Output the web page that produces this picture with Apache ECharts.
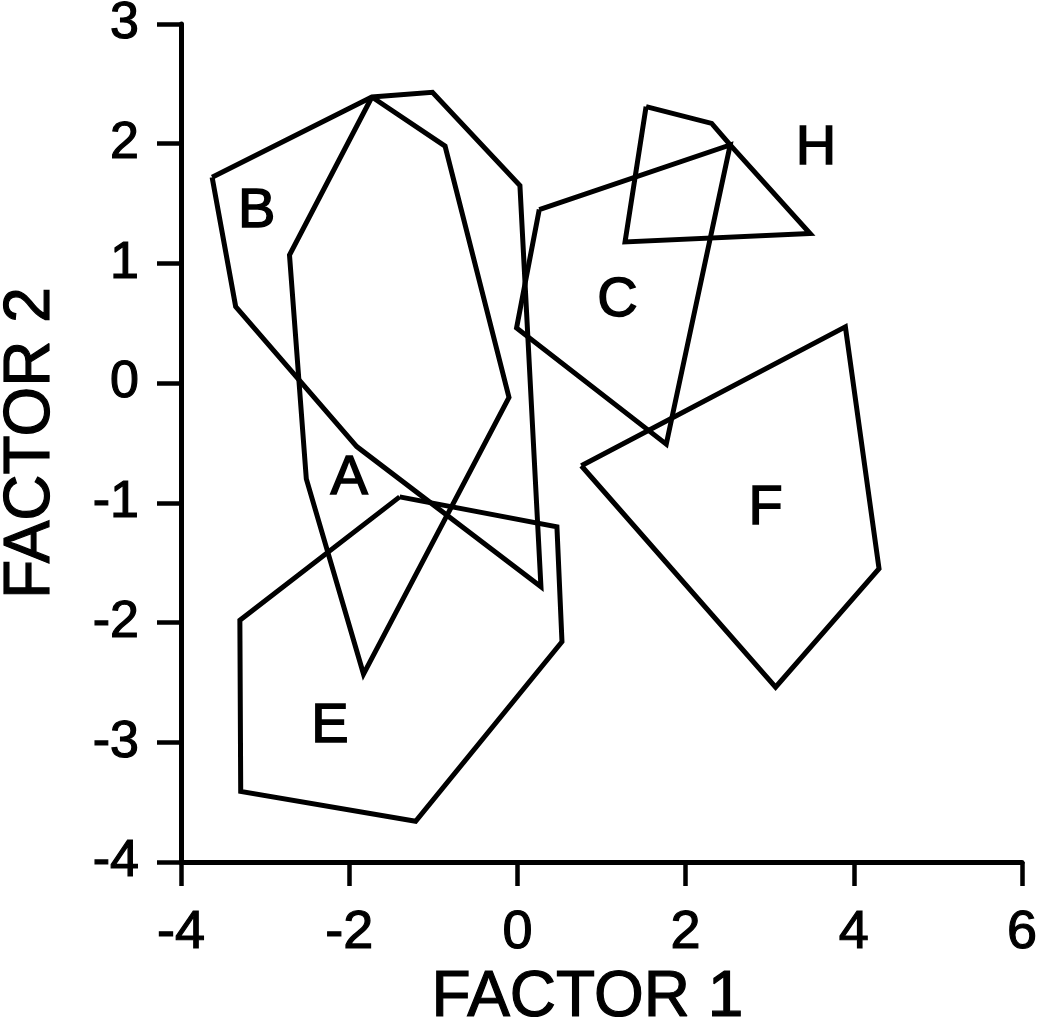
<!DOCTYPE html>
<html>
<head>
<meta charset="utf-8">
<script src="https://cdn.jsdelivr.net/npm/echarts@6/dist/echarts.min.js"></script>
<style>
html,body{margin:0;padding:0;background:#fff;}
#chart{width:1058px;height:1032px;}
</style>
</head>
<body>
<div id="chart"></div>
<script>
// Polygon vertices [factor1, factor2]
const polygonA = [[-1.73,2.39],[-0.86,1.98],[-0.10,-0.12],[-1.83,-2.43],[-2.51,-0.80],[-2.71,1.07]];
const polygonB = [[-3.63,1.72],[-1.73,2.39],[-1.01,2.43],[0.03,1.65],[0.28,-1.70],[-1.91,-0.53],[-3.35,0.64]];
const polygonC = [[0.26,1.45],[2.53,1.99],[1.77,-0.51],[-0.01,0.46]];
const polygonH = [[1.53,2.31],[2.31,2.17],[2.53,1.99],[3.48,1.25],[1.28,1.18]];
const polygonE = [[-1.40,-0.95],[0.47,-1.20],[0.53,-2.16],[-1.21,-3.66],[-3.29,-3.41],[-3.30,-1.98]];
const polygonF = [[0.76,-0.69],[3.90,0.47],[4.30,-1.55],[3.07,-2.54]];

const groupNames = ['A','B','C','H','E','F'];
const labelPositions = [[-2.00,-0.80],[-3.10,1.43],[1.19,0.69],[3.55,1.96],[-2.23,-2.87],[2.95,-1.05]];

const xTicks = {min:-4, max:6, interval:2};
const yTicks = {min:-4, max:3, interval:1};
const xTitle = 'FACTOR 1';
const yTitle = 'FACTOR 2';

const polygons = [polygonA, polygonB, polygonC, polygonH, polygonE, polygonF];

const FONT = '"Liberation Sans", Arial, sans-serif';
const chart = echarts.init(document.getElementById('chart'), null, {renderer:'canvas'});

const lineSeries = polygons.map((p, i) => ({
  type: 'line',
  name: groupNames[i],
  data: p.concat([p[0]]),
  symbol: 'none',
  lineStyle: {color:'#000', width:5, join:'miter'},
  silent: true,
  z: 2
}));

const labelSeries = {
  type: 'scatter',
  data: groupNames.map((n, i) => ({name:n, value:labelPositions[i]})),
  symbolSize: 2,
  itemStyle: {color:'rgba(0,0,0,0)'},
  label: {show:true, position:'inside', formatter:'{b}', fontSize:56, color:'#000', opacity:1,
          fontFamily:FONT, textBorderColor:'#000', textBorderWidth:1.5},
  labelLayout: {hideOverlap:false},
  silent: true,
  z: 3
};

const axisCommon = {
  type: 'value',
  splitLine: {show:false},
  axisLine: {show:true, onZero:false, lineStyle:{color:'#000', width:5}},
  axisTick: {show:true, inside:false, length:24, lineStyle:{color:'#000', width:4.5}},
  nameLocation: 'middle',
};

chart.setOption({
  animation: false,
  backgroundColor: '#fff',
  grid: {left:181, right:36, top:24, bottom:170, containLabel:false, outerBoundsMode:'none'},
  xAxis: Object.assign({}, axisCommon, {
    min: xTicks.min, max: xTicks.max, interval: xTicks.interval,
    axisLabel: {margin:44, fontSize:54, color:'#000', fontFamily:FONT, textBorderColor:'#000', textBorderWidth:1.2},
    name: xTitle, nameGap: 100,
    nameTextStyle: {fontSize:64, color:'#000', fontFamily:FONT, padding:[0,28,0,0], textBorderColor:'#000', textBorderWidth:1.2}
  }),
  yAxis: Object.assign({}, axisCommon, {
    min: yTicks.min, max: yTicks.max, interval: yTicks.interval,
    axisLabel: {margin:42, fontSize:52, color:'#000', fontFamily:FONT, textBorderColor:'#000', textBorderWidth:1.2},
    name: yTitle, nameGap: 118,
    nameTextStyle: {fontSize:64, color:'#000', fontFamily:FONT, textBorderColor:'#000', textBorderWidth:1.2}
  }),
  series: lineSeries.concat([labelSeries])
});
</script>
</body>
</html>
